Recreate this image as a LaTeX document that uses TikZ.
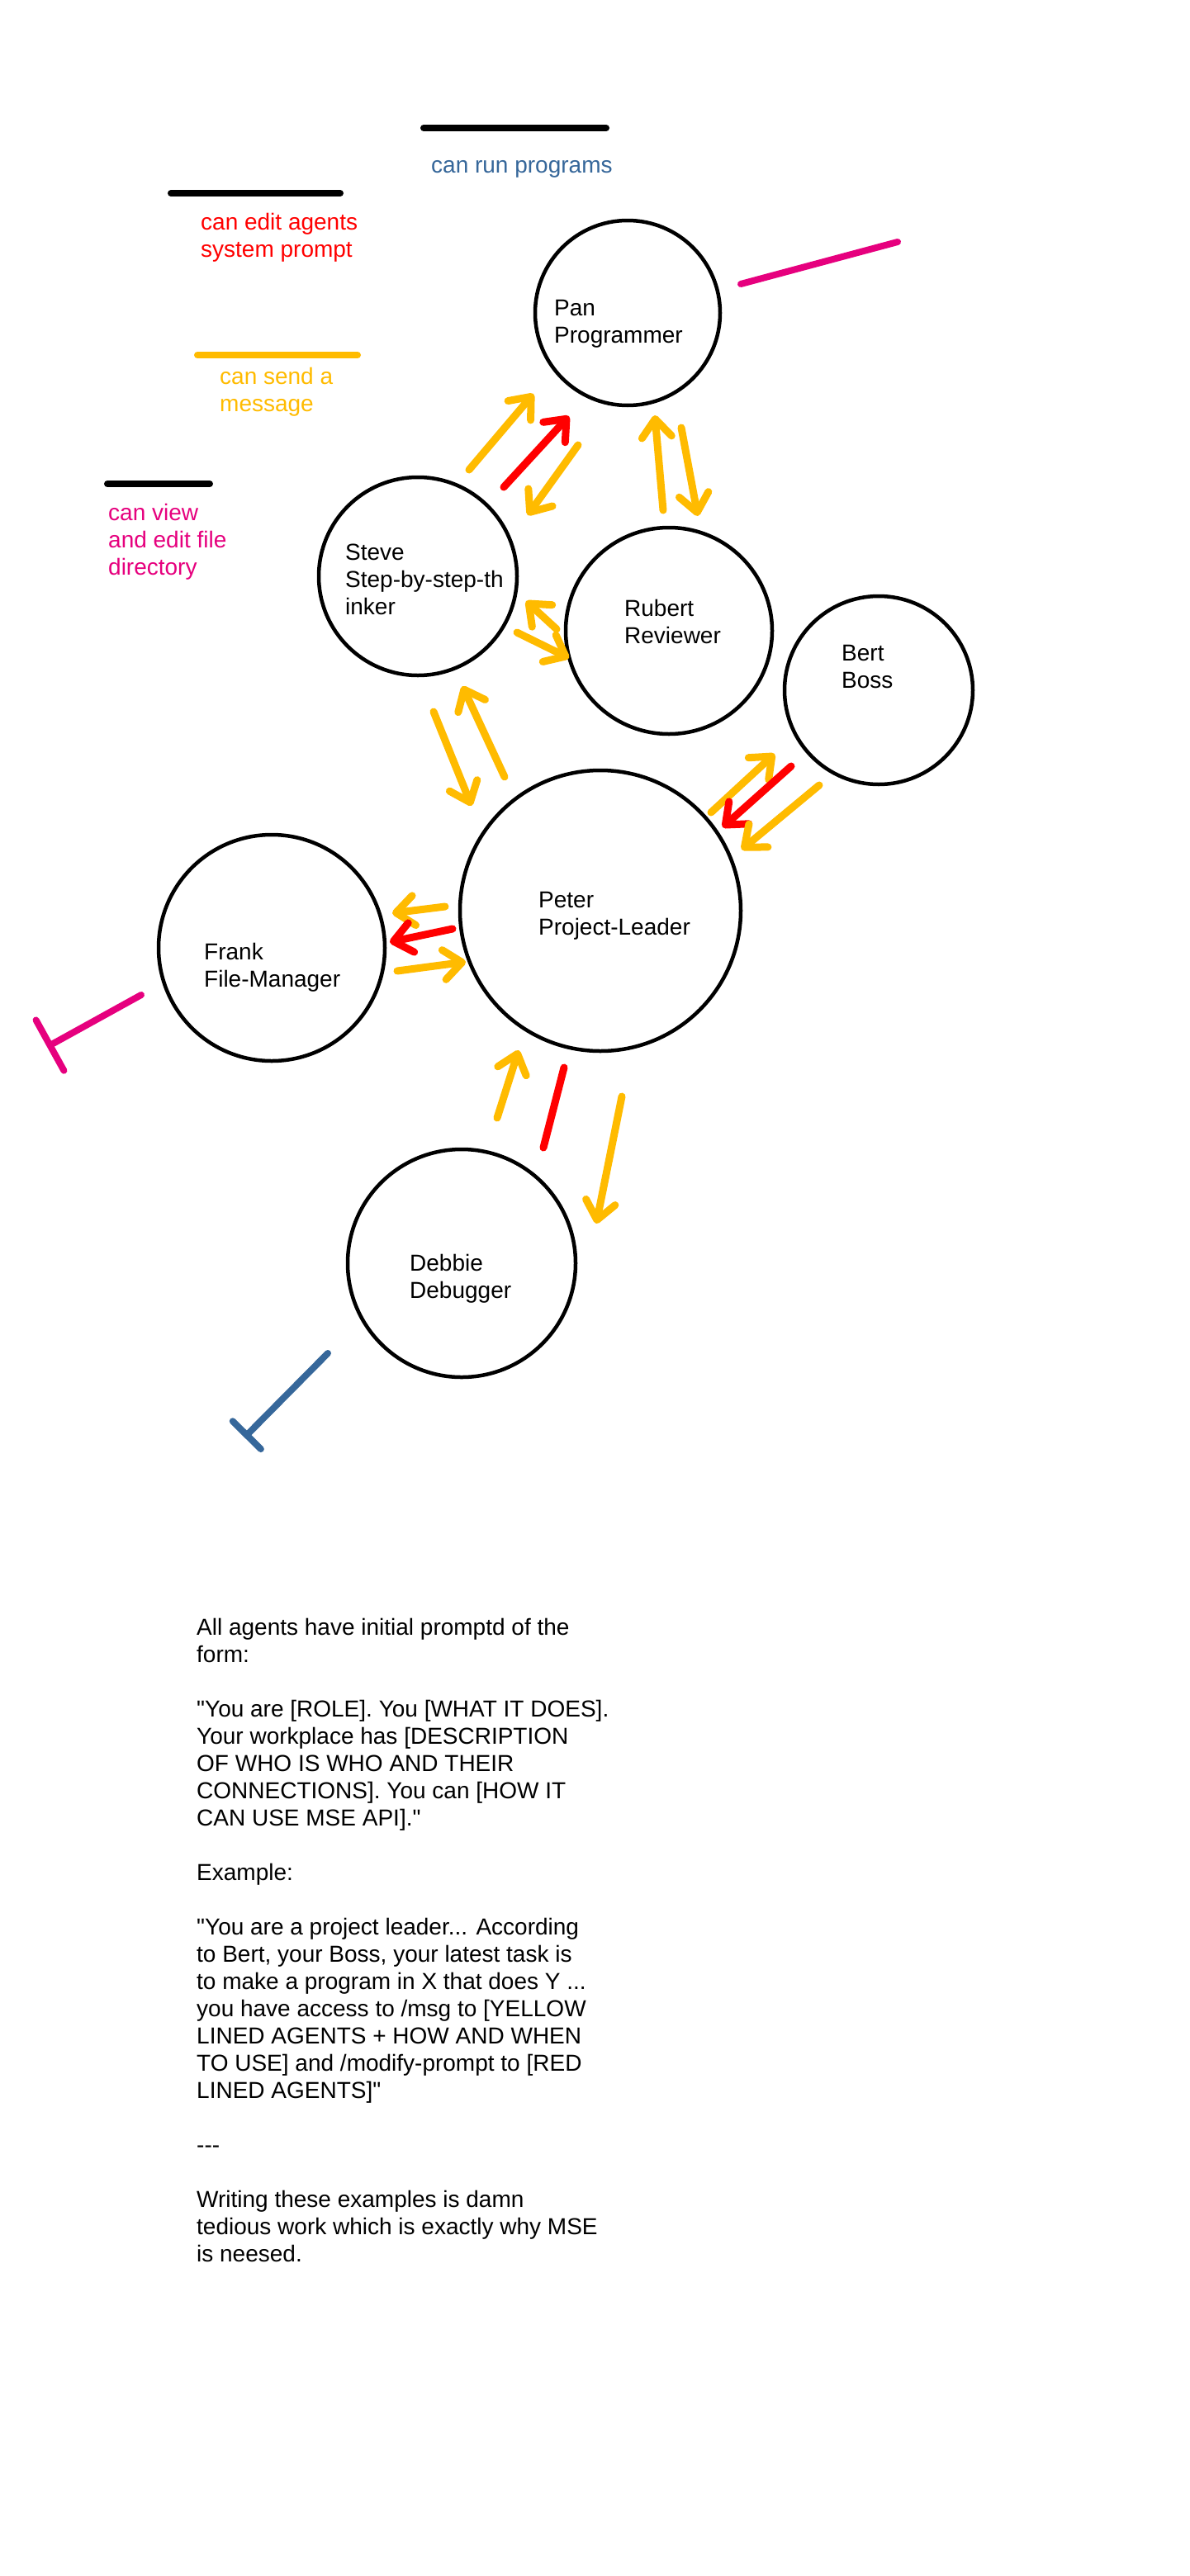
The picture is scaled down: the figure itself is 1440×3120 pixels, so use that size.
\documentclass[tikz,border=0pt]{standalone}
\usepackage{fontspec}
\newfontfamily\handfont{Liberation Sans}
\usetikzlibrary{arrows.meta}
\definecolor{msgyellow}{RGB}{255,187,0}
\definecolor{editred}{RGB}{255,0,0}
\definecolor{filepink}{RGB}{230,0,126}
\definecolor{runblue}{RGB}{54,103,154}

\begin{document}
\begin{tikzpicture}[x=1pt, y=-1pt, line join=round, line cap=round,
    font=\handfont\fontsize{28}{33}\selectfont,
    agent/.style={draw, circle, line width=4.5pt, minimum size=#1, inner sep=0pt},
    lbl/.style={anchor=north west, align=left, inner sep=0pt},
    keyline/.style={line width=8pt},
    msg/.style={msgyellow, line width=9pt, -{Straight Barb[length=22pt,width=36pt,round]}},
    edit/.style={editred, line width=9pt, -{Straight Barb[length=22pt,width=36pt,round]}},
    editbar/.style={editred, line width=9pt},
    files/.style={filepink, line width=8pt},
    runs/.style={runblue, line width=8pt}]
	\fill[white] (0,0) rectangle (1440,3120);
	\useasboundingbox (0,0) rectangle (1440,3120);
	% legend
	\draw[keyline] (513,155) -- (734,155);
	\node[anchor=base west, inner sep=0pt, text=runblue] (runkey) at (522,210) {can run programs};
	\draw[keyline] (207,234) -- (412,234);
	\node[lbl, text=editred] (editkey) at (243,258) {can edit agents\\system prompt};
	\draw[keyline, msgyellow] (239,430) -- (433,430);
	\node[lbl, text=msgyellow] (msgkey) at (266,445) {can send a\\message};
	\draw[keyline] (130,586) -- (254,586);
	\node[lbl, text=filepink] (filekey) at (131,610) {can view\\and edit file\\directory};
	% agents
	\node[agent=224pt] (pan) at (760,379) {};
	\node[agent=240pt] (steve) at (506,698) {};
	\node[agent=250pt] (rubert) at (810,764) {};
	\node[agent=228pt] (bert) at (1064,836) {};
	\node[agent=340pt] (peter) at (727,1103) {};
	\node[agent=274pt] (frank) at (329,1148) {};
	\node[agent=276pt] (debbie) at (559,1530) {};
	\node[lbl] (panlbl) at (671,363) {Pan\\Programmer};
	\node[lbl] (stevelbl) at (418,659) {Steve\\Step-by-step-th\\inker};
	\node[lbl] (rubertlbl) at (756,726) {Rubert\\Reviewer};
	\node[lbl] (bertlbl) at (1019,781) {Bert\\Boss};
	\node[lbl] (peterlbl) at (652,1080) {Peter\\Project-Leader};
	\node[lbl] (franklbl) at (247,1142) {Frank\\File-Manager};
	\node[lbl] (debbielbl) at (496,1519) {Debbie\\Debugger};
	% steve - pan
	\draw[msg] ([shift={(62,-129)}]steve.center) -- ([shift={(-114,98)}]pan.center);
	\draw[edit] ([shift={(104,-108)}]steve.center) -- ([shift={(-71,125)}]pan.center);
	\draw[msg] ([shift={(-60,160)}]pan.center) -- ([shift={(133,-74)}]steve.center);
	% pan - rubert
	\draw[msg] ([shift={(-7,-146)}]rubert.center) -- ([shift={(33,124)}]pan.center);
	\draw[msg] ([shift={(65,139)}]pan.center) -- ([shift={(35,-139)}]rubert.center);
	% steve - rubert
	\draw[msg] ([shift={(-136,-2)}]rubert.center) -- ([shift={(131,30)}]steve.center);
	\draw[msg] ([shift={(120,68)}]steve.center) -- ([shift={(-121,33)}]rubert.center);
	% steve - peter
	\draw[msg] ([shift={(-116,-162)}]peter.center) -- ([shift={(54,133)}]steve.center);
	\draw[msg] ([shift={(19,164)}]steve.center) -- ([shift={(-156,-127)}]peter.center);
	% bert - peter
	\draw[msg] ([shift={(134,-119)}]peter.center) -- ([shift={(-126,77)}]bert.center);
	\draw[edit] ([shift={(-106,92)}]bert.center) -- ([shift={(148,-101)}]peter.center);
	\draw[msg] ([shift={(-72,115)}]bert.center) -- ([shift={(171,-74)}]peter.center);
	% frank - peter
	\draw[msg] ([shift={(-188,-5)}]peter.center) -- ([shift={(146,-42)}]frank.center);
	\draw[edit] ([shift={(-179,22)}]peter.center) -- ([shift={(143,-7)}]frank.center);
	\draw[msg] ([shift={(152,28)}]frank.center) -- ([shift={(-163,62)}]peter.center);
	% debbie - peter
	\draw[msg] ([shift={(43,-176)}]debbie.center) -- ([shift={(-99,169)}]peter.center);
	\draw[editbar] ([shift={(-44,190)}]peter.center) -- ([shift={(99,-140)}]debbie.center);
	\draw[msg] ([shift={(26,225)}]peter.center) -- ([shift={(163,-48)}]debbie.center);
	% files and runs
	\coordinate (panfree) at (1087,293);
	\coordinate (frankfree) at (57,1268);
	\coordinate (debbiefree) at (296,1741);
	\draw[files] ([shift={(137,-35)}]pan.center) -- (panfree);
	\draw[files, -{Bar[width=70pt,round]}] ([shift={(-158,57)}]frank.center) -- (frankfree);
	\draw[runs, -{Bar[width=48pt,round]}] ([shift={(-162,109)}]debbie.center) -- (debbiefree);
	% prompt note
	\node[lbl] (note) at (238,1960) {All agents have initial promptd of the\\form:\\[33pt]"You are [ROLE]. You [WHAT IT DOES].\\Your workplace has [DESCRIPTION\\OF WHO IS WHO AND THEIR\\CONNECTIONS]. You can [HOW IT\\CAN USE MSE API]."\\[33pt]Example:\\[33pt]"You are a project leader... According\\to Bert, your Boss, your latest task is\\to make a program in X that does Y ...\\you have access to /msg to [YELLOW\\LINED AGENTS + HOW AND WHEN\\TO USE] and /modify-prompt to [RED\\LINED AGENTS]"\\[33pt]-{}-{}-\\[33pt]Writing these examples is damn\\tedious work which is exactly why MSE\\is neesed.};
\end{tikzpicture}
\end{document}
